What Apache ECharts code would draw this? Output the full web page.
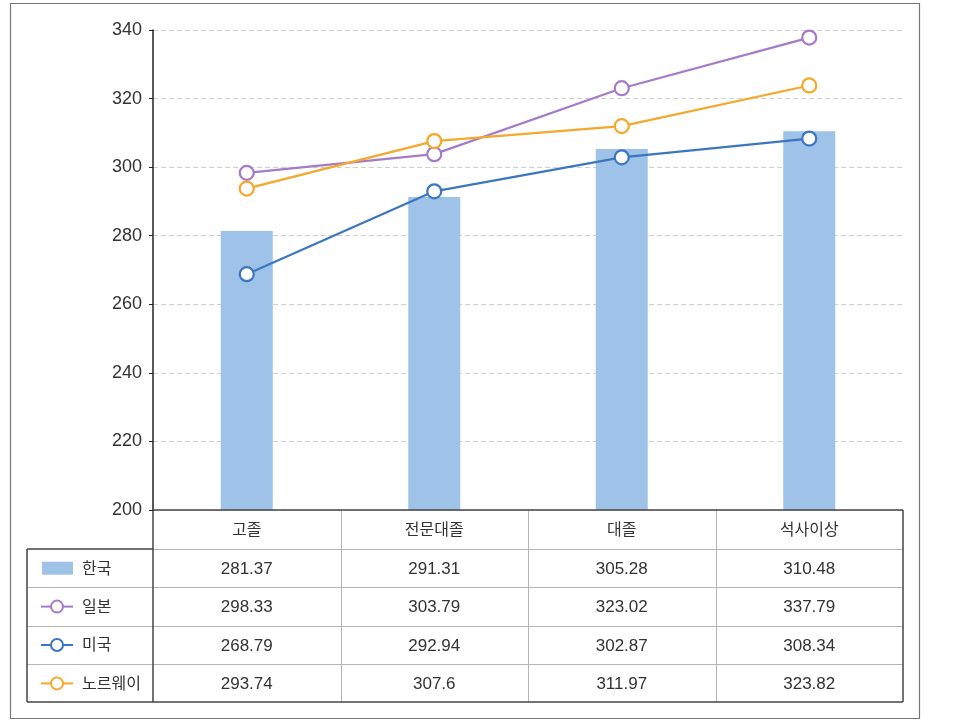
<!DOCTYPE html>
<html><head><meta charset="utf-8">
<script src="https://cdn.jsdelivr.net/npm/echarts@6/dist/echarts.min.js"></script>
<style>html,body{margin:0;padding:0;background:#fff}#c{width:959px;height:728px}</style>
</head><body><div id="c"></div>
<script>
const categories = ['고졸', '전문대졸', '대졸', '석사이상'];
const korea = [281.37, 291.31, 305.28, 310.48];
const japan = [298.33, 303.79, 323.02, 337.79];
const usa = [268.79, 292.94, 302.87, 308.34];
const norway = [293.74, 307.6, 311.97, 323.82];
const seriesNames = ['한국', '일본', '미국', '노르웨이'];
const tableValues = [korea, japan, usa, norway];

const C_BAR = '#9fc2e8', C_JP = '#a57bc9', C_US = '#3b77bf', C_NO = '#f5a82a';
const colors = [C_BAR, C_JP, C_US, C_NO];
const FONT = '"Liberation Sans", "Noto Sans CJK KR", sans-serif';

const G = {left: 153, right: 903, top: 30, bottom: 510};
const rowH = 38.4;
const headerBottom = 549;
const tableBottom = 702;
const tableLeft = 27;

const chart = echarts.init(document.getElementById('c'), null, {renderer: 'canvas'});

function lineSeries(name, data, color) {
  return {
    name, type: 'line', data, z: 3,
    symbol: 'circle', symbolSize: 14,
    lineStyle: {color, width: 2.2},
    itemStyle: {color: '#fff', borderColor: color, borderWidth: 2.2}
  };
}

chart.setOption({
  animation: false,
  grid: {left: G.left, right: 959 - G.right, top: G.top, bottom: 728 - G.bottom, containLabel: false},
  xAxis: {
    type: 'category', data: categories,
    axisLine: {show: false}, axisTick: {show: false}, axisLabel: {show: false}
  },
  yAxis: {
    type: 'value', min: 200, max: 340, interval: 20,
    axisLine: {show: true, lineStyle: {color: '#222', width: 1.5}},
    axisTick: {show: true, length: 4, inside: false, lineStyle: {color: '#222'}},
    axisLabel: {color: '#333', fontSize: 18, fontFamily: FONT, margin: 11},
    splitLine: {show: true, lineStyle: {color: '#cfcfcf', type: [5, 3], width: 1}}
  },
  series: [
    {name: '한국', type: 'bar', data: korea, barWidth: 52, itemStyle: {color: C_BAR}, z: 2},
    lineSeries('일본', japan, C_JP),
    lineSeries('미국', usa, C_US),
    lineSeries('노르웨이', norway, C_NO)
  ]
});

const g = [];
g.push({type: 'rect', shape: {x: 10.5, y: 3.5, width: 909, height: 715}, style: {fill: null, stroke: '#777', lineWidth: 1.2}, silent: true, z: 0});

const colCenters = categories.map((c) => chart.convertToPixel({xAxisIndex: 0}, c));
const colW = (G.right - G.left) / categories.length;
for (let i = 1; i < categories.length; i++) {
  const x = Math.round(G.left + colW * i) + 0.5;
  g.push({type: 'line', shape: {x1: x, y1: G.bottom, x2: x, y2: tableBottom}, style: {stroke: '#b5b5b5', lineWidth: 1}, silent: true});
}
for (let r = 1; r < 4; r++) {
  const y = Math.round(headerBottom + rowH * r) + 0.5;
  g.push({type: 'line', shape: {x1: tableLeft, y1: y, x2: G.right, y2: y}, style: {stroke: '#b5b5b5', lineWidth: 1}, silent: true});
}
g.push({type: 'line', shape: {x1: G.left, y1: headerBottom + 0.5, x2: G.right, y2: headerBottom + 0.5}, style: {stroke: '#b5b5b5', lineWidth: 1}, silent: true});
const dark = {stroke: '#444', lineWidth: 1.5};
g.push({type: 'line', shape: {x1: G.left, y1: G.bottom, x2: G.right, y2: G.bottom}, style: dark, silent: true, z: 5});
g.push({type: 'line', shape: {x1: G.right, y1: G.bottom, x2: G.right, y2: tableBottom}, style: dark, silent: true});
g.push({type: 'line', shape: {x1: tableLeft, y1: tableBottom, x2: G.right, y2: tableBottom}, style: dark, silent: true});
g.push({type: 'line', shape: {x1: tableLeft, y1: headerBottom, x2: G.left, y2: headerBottom}, style: dark, silent: true});
g.push({type: 'line', shape: {x1: tableLeft, y1: headerBottom, x2: tableLeft, y2: tableBottom}, style: dark, silent: true});
g.push({type: 'line', shape: {x1: G.left, y1: G.bottom, x2: G.left, y2: tableBottom}, style: dark, silent: true});

categories.forEach((c, i) => {
  g.push({type: 'text', x: colCenters[i], y: (G.bottom + headerBottom) / 2 + 1, silent: true,
    style: {text: c, fill: '#333', font: '16px ' + FONT, textAlign: 'center', textVerticalAlign: 'middle'}});
});
seriesNames.forEach((name, r) => {
  const yc = headerBottom + rowH * (r + 0.5);
  const col = colors[r];
  if (r === 0) {
    g.push({type: 'rect', shape: {x: 42, y: yc - 6.5, width: 31, height: 13}, style: {fill: col}, silent: true});
  } else {
    g.push({type: 'line', shape: {x1: 41, y1: yc, x2: 73, y2: yc}, style: {stroke: col, lineWidth: 2}, silent: true});
    g.push({type: 'circle', shape: {cx: 57, cy: yc, r: 6}, style: {fill: '#fff', stroke: col, lineWidth: 2}, silent: true});
  }
  g.push({type: 'text', x: 82, y: yc + 1, silent: true,
    style: {text: name, fill: '#333', font: '16px ' + FONT, textAlign: 'left', textVerticalAlign: 'middle'}});
  tableValues[r].forEach((v, i) => {
    g.push({type: 'text', x: colCenters[i], y: yc + 1, silent: true,
      style: {text: String(v), fill: '#333', font: '17px ' + FONT, textAlign: 'center', textVerticalAlign: 'middle'}});
  });
});

chart.setOption({graphic: {elements: g}});
</script>
</body></html>
